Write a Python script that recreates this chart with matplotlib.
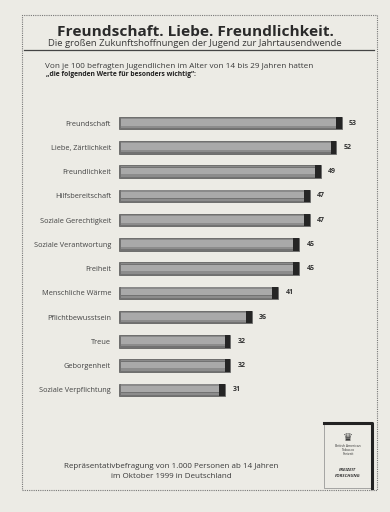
import numpy as np
import matplotlib.pyplot as plt
from matplotlib.patches import Rectangle

# values (percent of young people, 14-29 years)
labels = ['Freundschaft', 'Liebe, Zärtlichkeit', 'Freundlichkeit', 'Hilfsbereitschaft',
          'Soziale Gerechtigkeit', 'Soziale Verantwortung', 'Freiheit', 'Menschliche Wärme',
          'Pflichtbewusstsein', 'Treue', 'Geborgenheit', 'Soziale Verpflichtung']
values = [53, 52, 49, 47, 47, 45, 45, 41, 36, 32, 32, 31]

paper = '#ecebe5'
ink = '#3a3a3a'

fig = plt.figure(figsize=(3.9, 5.12), dpi=100)
fig.patch.set_facecolor(paper)

# outer dotted frame
fig.patches.append(Rectangle((22/390, 1-490/512), 355/390, 475/512, transform=fig.transFigure,
                             fill=False, ec='#777777', lw=0.8, ls=(0, (1, 1))))

fig.text(0.5, 1-32/512, 'Freundschaft. Liebe. Freundlichkeit.', ha='center', va='center',
         fontsize=11.1, fontweight='bold', color='#2a2a2a', family='Open Sans')
fig.text(0.5, 1-43/512, 'Die großen Zukunftshoffnungen der Jugend zur Jahrtausendwende',
         ha='center', va='center', fontsize=6.8, color=ink, family='Open Sans')
fig.lines.append(plt.Line2D([24/390, 374/390], [1-50/512, 1-50/512], transform=fig.transFigure,
                            color='#444444', lw=0.9))
fig.text(45/390, 1-67/512, 'Von je 100 befragten Jugendlichen im Alter von 14 bis 29 Jahren hatten',
         ha='left', va='center', fontsize=5.9, color=ink, family='Open Sans')
fig.text(46/390, 1-74/512, '„die folgenden Werte für besonders wichtig“:',
         ha='left', va='center', fontsize=4.9, fontweight='bold', color='#222222', family='Open Sans')

ax = fig.add_axes([117/390, 1-402/512, 264/390, 291/512])
ax.set_facecolor('none')
y = np.arange(len(values))
v = np.array(values)
x0 = 11  # axis of the original does not start at zero

# cylinder look: dark base, lighter middle band, dark end cap
ax.barh(y, v - x0, left=x0, height=0.52, color='#727272', edgecolor='#555555', lw=0.5)
ax.barh(y - 0.03, v - x0 - 0.6, left=x0 + 0.3, height=0.26, color='#a9a9a9', lw=0)
ax.barh(y + 0.16, v - x0 - 0.6, left=x0 + 0.3, height=0.09, color='#8c8c8c', lw=0)
ax.barh(y - 0.2, v - x0 - 0.6, left=x0 + 0.3, height=0.05, color='#8a8a8a', lw=0)
ax.barh(y, np.full(len(v), 1.1), left=v - 1.1, height=0.52, color='#252525', lw=0)

for yi, val in zip(y, values):
    ax.text(val + 1.4, yi, str(val), va='center', ha='left', fontsize=5, fontweight='bold',
            color='#333333', family='Open Sans')

ax.set_xlim(x0 - 0.4, x0 - 0.4 + 264/5.3)
ax.set_ylim(len(values) - 0.5, -0.5)
ax.set_yticks(y)
ax.set_yticklabels(labels, fontsize=5.3, color='#444444', family='Open Sans')
ax.tick_params(axis='y', length=0, pad=4.3)
ax.set_xticks([])
for s in ax.spines.values():
    s.set_visible(False)

fig.text(171/390, 1-467/512, 'Repräsentativbefragung von 1.000 Personen ab 14 Jahren',
         ha='center', va='center', fontsize=5.8, color=ink, family='Open Sans')
fig.text(171/390, 1-476/512, 'im Oktober 1999 in Deutschland',
         ha='center', va='center', fontsize=5.8, color=ink, family='Open Sans')

# small logo box in the lower right corner
fig.patches.append(Rectangle((324/390, 1-488/512), 48/390, 66/512, transform=fig.transFigure,
                             fill=False, ec='#888888', lw=0.5))
fig.lines.append(plt.Line2D([324/390, 372/390, 372/390], [1-423/512, 1-423/512, 1-488/512],
                            transform=fig.transFigure, color='#222222', lw=2.2))
fig.text(348/390, 1-438/512, '♛', ha='center', va='center', fontsize=8, color='#333333',
         family='DejaVu Sans')
fig.text(348/390, 1-450/512, 'British American\nTobacco\nFreizeit', ha='center', va='center',
         fontsize=2.4, color='#333333', family='Open Sans', linespacing=1.0)
fig.text(348/390, 1-473/512, 'FREIZEIT\nFORSCHUNG', ha='center', va='center', fontsize=3.2,
         fontweight='bold', style='italic', color='#333333', family='Open Sans', linespacing=1.4)

fig.savefig('out.png', dpi=100, facecolor=fig.get_facecolor())
